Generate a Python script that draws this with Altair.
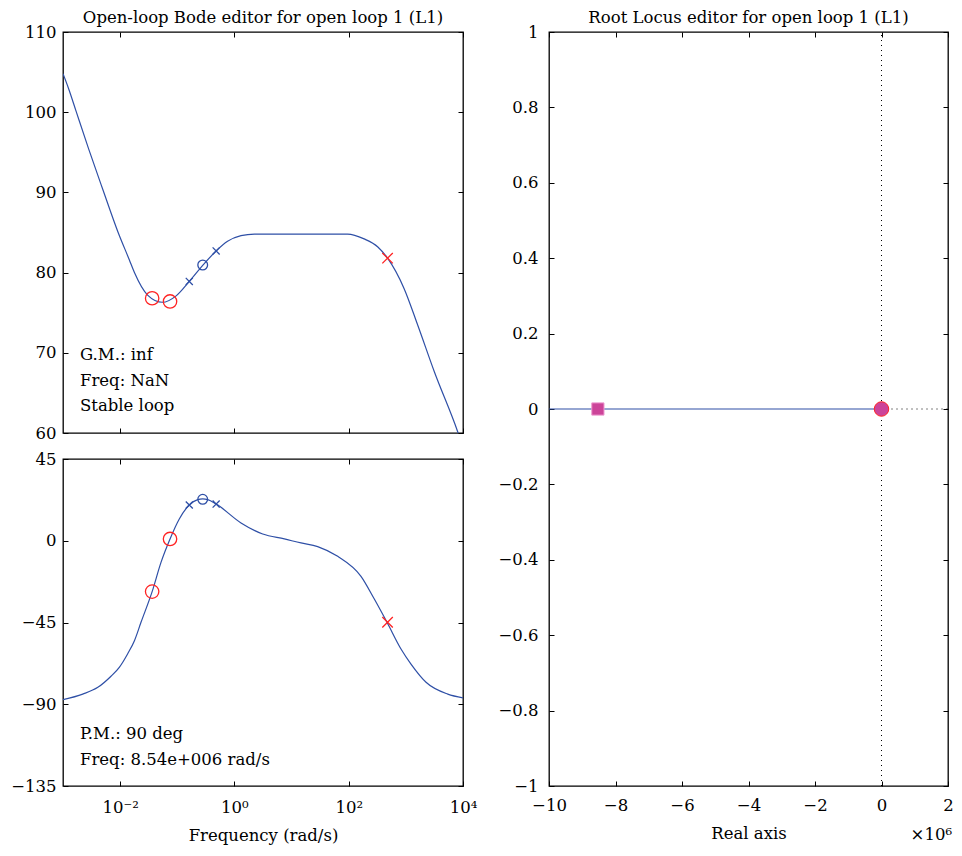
import altair as alt
import pandas as pd

FONT = "DejaVu Serif"
FS = 16.5
BLUE = "#2E4FA6"
RED = "#FF2222"
PINK = "#CC4499"

W_L, H_MAG, H_PH = 400, 401, 327
W_R, H_R = 399, 754

# ---- Bode magnitude (log10 of rad/s, dB)
mag_logw = [-3.0, -2.9, -2.77, -2.55, -2.30, -2.04, -1.84, -1.75, -1.52, -1.26, -1.02,
            -0.79, -0.555, -0.32, -0.12, 0.115, 0.35, 1.98, 2.27, 2.51, 2.68, 2.97,
            3.21, 3.50, 3.91, 4.0]
mag_db = [104.8, 102.9, 100.1, 95.4, 90.3, 85.1, 81.6, 80.0, 77.2, 76.3, 77.1,
          78.9, 80.9, 82.7, 83.9, 84.6, 84.8, 84.8, 84.2, 83.2, 81.8, 78.0,
          73.4, 67.6, 60.1, 58.2]

# ---- Bode phase (log10 of rad/s, deg)
ph_logw = [-3.0, -2.655, -2.39, -2.16, -2.015, -1.87, -1.75, -1.635, -1.44, -1.285,
           -1.127, -0.965, -0.79, -0.643, -0.555, -0.468, -0.32, 0.115, 0.495, 0.873,
           1.165, 1.457, 1.807, 2.215, 2.448, 2.67, 2.915, 3.09, 3.353, 3.733, 4.0]
ph_deg = [-87.5, -84.4, -80.7, -74.6, -69.7, -62.3, -55.0, -44.9, -28.0, -11.9,
          1.0, 12.0, 19.7, 22.6, 23.0, 22.6, 20.2, 9.8, 3.7, 1.0,
          -1.2, -3.2, -8.6, -19.6, -32.1, -44.9, -59.6, -67.9, -77.9, -84.4, -86.5]

# ---- compensator markers
zero_red_logw = [-1.44, -1.127]
zero_red_mag = [76.8, 76.4]
zero_red_ph = [-28.0, 1.0]
pole_blue_logw = [-0.79, -0.32]
pole_blue_mag = [78.9, 82.7]
pole_blue_ph = [19.7, 20.2]
zero_blue_logw = [-0.555]
zero_blue_mag = [80.95]
zero_blue_ph = [22.8]
pole_red_logw = [2.68]
pole_red_mag = [81.8]
pole_red_ph = [-44.9]

# ---- root locus (real axis in units of 1e6)
rl_branch_x = [-10, 0]
rl_branch_y = [0, 0]
rl_square_x = [-8.53]
rl_square_y = [0]
rl_circle_x = [0]
rl_circle_y = [0]

# ---- ticks
bode_x_ticks = [0.01, 1, 100, 10000]
mag_ticks = [60, 70, 80, 90, 100, 110]
ph_ticks = [-135, -90, -45, 0, 45]
rl_x_ticks = [-10, -8, -6, -4, -2, 0, 2]
rl_y_ticks = [-1, -0.8, -0.6, -0.4, -0.2, 0, 0.2, 0.4, 0.6, 0.8, 1]

gm_lines = ["G.M.: inf", "Freq: NaN", "Stable loop"]
pm_lines = ["P.M.: 90 deg", "Freq: 8.54e+006 rad/s"]

XMARK = "M-1,-1L1,1M1,-1L-1,1"


def tw(lw):
    return [10 ** v for v in lw]


mag_df = pd.DataFrame({"w": tw(mag_logw), "v": mag_db})
ph_df = pd.DataFrame({"w": tw(ph_logw), "v": ph_deg})

xscale = alt.Scale(type="log", domain=[1e-3, 1e4], nice=False)
mag_ys = alt.Scale(domain=[60, 110], nice=False, zero=False)
ph_ys = alt.Scale(domain=[-135, 45], nice=False, zero=False)
rl_xs = alt.Scale(domain=[-10, 2], nice=False, zero=False)
rl_ys = alt.Scale(domain=[-1, 1], nice=False, zero=False)


def tick_axis(orient, off, vals):
    return alt.Axis(orient=orient, offset=off, labels=False, domain=False, tickSize=5,
                    tickWidth=1, tickColor="black", values=vals, title=None, grid=False)


def inward(df, xf, yf, xs, ys, W, H, xt, yt):
    a = alt.Chart(df).mark_point(opacity=0, clip=True).encode(
        x=alt.X(f"{xf}:Q", scale=xs, axis=tick_axis("top", -H, xt)),
        y=alt.Y(f"{yf}:Q", scale=ys, axis=tick_axis("right", -W, yt)))
    b = alt.Chart(df).mark_point(opacity=0, clip=True).encode(
        x=alt.X(f"{xf}:Q", scale=xs, axis=tick_axis("bottom", -H, xt)),
        y=alt.Y(f"{yf}:Q", scale=ys, axis=tick_axis("left", -W, yt)))
    return [a, b]


def lab_axis(orient, vals, pad, title=None, **kw):
    args = dict(orient=orient, values=vals, ticks=False, domain=False, grid=False,
                labelPadding=pad, labelFont=FONT, labelFontSize=FS, labelColor="black",
                labelFlush=False, labelOverlap=False)
    args["title"] = title
    args.update(kw)
    return alt.Axis(**args)


xlabel_expr = ("datum.value < 0.1 ? '10\u207b\u00b2' : datum.value < 10 ? '10\u2070' : "
               "datum.value < 1000 ? '10\u00b2' : '10\u2074'")


def markers(lw, vals, ys, kind):
    df = pd.DataFrame({"w": tw(lw), "v": vals})
    if kind == "zero_red":
        m = alt.Chart(df).mark_point(shape="circle", filled=False, stroke=RED, strokeWidth=1.3,
                                     size=180, opacity=1)
    elif kind == "zero_blue":
        m = alt.Chart(df).mark_point(shape="circle", filled=False, stroke=BLUE, strokeWidth=1.3,
                                     size=95, opacity=1)
    elif kind == "pole_blue":
        m = alt.Chart(df).mark_point(shape=XMARK, filled=False, stroke=BLUE, strokeWidth=1.3,
                                     size=50, opacity=1)
    else:
        m = alt.Chart(df).mark_point(shape=XMARK, filled=False, stroke=RED, strokeWidth=1.3,
                                     size=110, opacity=1)
    return m.encode(x=alt.X("w:Q", scale=xscale, axis=None), y=alt.Y("v:Q", scale=ys, axis=None))


def text_block(lines, y0, step):
    df = pd.DataFrame({"t": lines, "i": list(range(len(lines)))})
    return alt.Chart(df).mark_text(align="left", baseline="middle", font=FONT, fontSize=FS,
                                   color="black").encode(
        x=alt.value(17),
        y=alt.Y("i:Q", scale=alt.Scale(domain=[0, 1], range=[y0, y0 + step]), axis=None),
        text="t:N")


def title(txt):
    return alt.TitleParams(txt, font=FONT, fontSize=FS, fontWeight="normal", color="black",
                           offset=-2, anchor="middle")


# ---- magnitude panel
mag_line = alt.Chart(mag_df).mark_line(color=BLUE, strokeWidth=1.2, clip=True,
                                       interpolate="monotone").encode(
    x=alt.X("w:Q", scale=xscale, axis=None),
    y=alt.Y("v:Q", scale=mag_ys, axis=lab_axis("left", mag_ticks, 7)))

mag = alt.layer(
    mag_line,
    markers(zero_red_logw, zero_red_mag, mag_ys, "zero_red"),
    markers(pole_blue_logw, pole_blue_mag, mag_ys, "pole_blue"),
    markers(zero_blue_logw, zero_blue_mag, mag_ys, "zero_blue"),
    markers(pole_red_logw, pole_red_mag, mag_ys, "pole_red"),
    text_block(gm_lines, 323, 25.5),
    *inward(mag_df, "w", "v", xscale, mag_ys, W_L, H_MAG, bode_x_ticks, mag_ticks),
).resolve_scale(y="independent").resolve_axis(x="independent", y="independent").properties(
    width=W_L, height=H_MAG, title=title("Open-loop Bode editor for open loop 1 (L1)"))

# ---- phase panel
ph_line = alt.Chart(ph_df).mark_line(color=BLUE, strokeWidth=1.2, clip=True,
                                     interpolate="monotone").encode(
    x=alt.X("w:Q", scale=xscale,
            axis=lab_axis("bottom", bode_x_ticks, 13, title="Frequency (rad/s)",
                          labelExpr=xlabel_expr, titlePadding=12, titleFont=FONT,
                          titleFontSize=FS, titleFontWeight="normal", titleColor="black")),
    y=alt.Y("v:Q", scale=ph_ys, axis=lab_axis("left", ph_ticks, 7)))

ph = alt.layer(
    ph_line,
    markers(zero_red_logw, zero_red_ph, ph_ys, "zero_red"),
    markers(pole_blue_logw, pole_blue_ph, ph_ys, "pole_blue"),
    markers(zero_blue_logw, zero_blue_ph, ph_ys, "zero_blue"),
    markers(pole_red_logw, pole_red_ph, ph_ys, "pole_red"),
    text_block(pm_lines, 275, 25.5),
    *inward(ph_df, "w", "v", xscale, ph_ys, W_L, H_PH, bode_x_ticks, ph_ticks),
).resolve_scale(y="independent").resolve_axis(x="independent", y="independent").properties(
    width=W_L, height=H_PH)

left = alt.vconcat(mag, ph, spacing=26, bounds="flush")

# ---- root locus panel
br_df = pd.DataFrame({"x": rl_branch_x, "y": rl_branch_y})
rl_main = alt.Chart(br_df).mark_line(color=BLUE, strokeWidth=1.2, clip=True).encode(
    x=alt.X("x:Q", scale=rl_xs,
            axis=lab_axis("bottom", rl_x_ticks, 11, title="Real axis", format="d",
                          titlePadding=12, titleFont=FONT, titleFontSize=FS,
                          titleFontWeight="normal", titleColor="black")),
    y=alt.Y("y:Q", scale=rl_ys, axis=lab_axis("left", rl_y_ticks, 11, format="~f")))

cross_df = pd.DataFrame({"x": [0], "y": [0], "ylo": [-1], "yhi": [1], "xhi": [2]})
vdot = alt.Chart(cross_df).mark_rule(color="black", strokeWidth=1, strokeDash=[1, 4]).encode(
    x=alt.X("x:Q", scale=rl_xs, axis=None),
    y=alt.Y("ylo:Q", scale=rl_ys, axis=None), y2="yhi:Q")
hdot = alt.Chart(cross_df).mark_rule(color="black", strokeWidth=1, strokeDash=[1, 4]).encode(
    x=alt.X("x:Q", scale=rl_xs, axis=None), x2="xhi:Q",
    y=alt.Y("y:Q", scale=rl_ys, axis=None))
sq = alt.Chart(pd.DataFrame({"x": rl_square_x, "y": rl_square_y})).mark_point(
    shape="square", filled=True, fill=PINK, stroke="#EE9AD0", strokeWidth=1, size=150,
    opacity=1).encode(x=alt.X("x:Q", scale=rl_xs, axis=None),
                      y=alt.Y("y:Q", scale=rl_ys, axis=None))
ci = alt.Chart(pd.DataFrame({"x": rl_circle_x, "y": rl_circle_y})).mark_point(
    shape="circle", filled=True, fill=PINK, stroke=RED, strokeWidth=1, size=210,
    opacity=1).encode(x=alt.X("x:Q", scale=rl_xs, axis=None),
                      y=alt.Y("y:Q", scale=rl_ys, axis=None))
exp_txt = alt.Chart(pd.DataFrame({"t": ["\u00d710\u2076"]})).mark_text(
    align="right", baseline="middle", font=FONT, fontSize=FS, color="black").encode(
    x=alt.value(W_R + 4), y=alt.value(H_R + 49), text="t:N")

rl = alt.layer(
    hdot, rl_main, vdot, sq, ci, exp_txt,
    *inward(br_df, "x", "y", rl_xs, rl_ys, W_R, H_R, rl_x_ticks, rl_y_ticks),
).resolve_axis(x="independent", y="independent").properties(
    width=W_R, height=H_R, title=title("Root Locus editor for open loop 1 (L1)"))

chart = alt.hconcat(left, rl, spacing=19).properties(
    padding={"left": 2, "top": 0, "right": 0, "bottom": 0}
).configure_view(stroke="black", strokeWidth=1.3).configure_axis(
    labelFont=FONT, labelFontSize=FS, labelColor="black", titleFont=FONT,
    titleFontSize=FS, titleFontWeight="normal", titleColor="black", grid=False
).configure_title(font=FONT, fontSize=FS, fontWeight="normal", color="black")

chart.save("out.html", embed_options={"renderer": "svg", "actions": False})
